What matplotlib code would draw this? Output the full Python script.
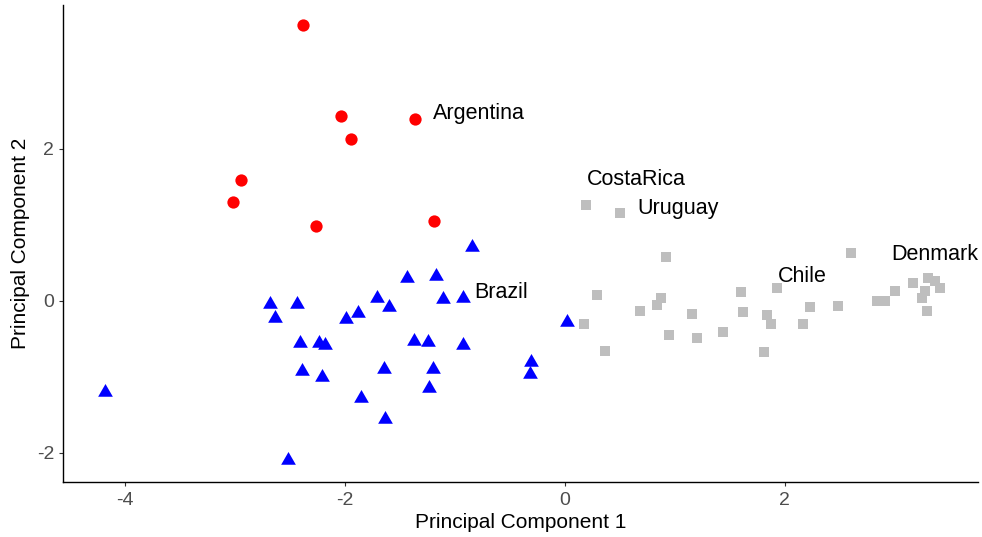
import numpy as np
import matplotlib
matplotlib.use("Agg")
import matplotlib.pyplot as plt

plt.rcParams["font.family"] = ["Liberation Sans", "DejaVu Sans"]
plt.rcParams["axes.unicode_minus"] = False

# ── data (PC scores) ─────────────────────────────────────────────────────────
red_pc1 = [-2.384, -2.032, -1.359, -1.947, -2.941, -3.020, -2.259, -1.189]
red_pc2 = [3.629, 2.428, 2.396, 2.129, 1.589, 1.300, 0.988, 1.050]

blue_pc1 = [-0.841, -1.435, -1.168, -0.925, -1.107, -1.707, -1.602, -2.680,
            -2.435, -2.635, -1.884, -1.989, -2.411, -2.232, -2.184, -1.375,
            -1.244, -0.929, -2.386, -2.211, -1.641, -1.195, -1.238, -1.856,
            -1.632, -2.520, -4.184, 0.025, -0.302, -0.320]
blue_pc2 = [0.704, 0.296, 0.326, 0.041, 0.024, 0.041, -0.078, -0.042,
            -0.042, -0.230, -0.156, -0.235, -0.560, -0.560, -0.577, -0.529,
            -0.542, -0.586, -0.924, -1.007, -0.902, -0.893, -1.151, -1.283,
            -1.560, -2.090, -1.196, -0.275, -0.801, -0.963]

gray_pc1 = [0.198, 0.505, 0.917, 2.605, 0.292, 0.171, 0.368, 0.683, 0.838,
            0.880, 1.153, 0.947, 1.201, 1.435, 1.605, 1.617, 1.808, 1.838,
            1.880, 1.935, 2.165, 2.232, 2.489, 2.844, 2.916, 3.007, 3.165,
            3.302, 3.368, 3.411, 3.277, 3.247, 3.295]
gray_pc2 = [1.261, 1.151, 0.572, 0.625, 0.080, -0.305, -0.656, -0.139, -0.055,
            0.041, -0.169, -0.454, -0.493, -0.411, 0.112, -0.151, -0.674, -0.191,
            -0.309, 0.164, -0.301, -0.078, -0.064, 0.001, -0.007, 0.125, 0.230,
            0.304, 0.261, 0.172, 0.129, 0.041, -0.134]

label_names = ["Argentina", "Brazil", "CostaRica", "Uruguay", "Chile", "Denmark"]
label_x = [-1.195, -0.823, 0.205, 0.659, 1.941, 2.968]
label_y = [2.470, 0.105, 1.590, 1.210, 0.315, 0.605]

# equilateral triangle centred on its centroid (like R pch 17)
TRI = [(-1, -1 / np.sqrt(3)), (1, -1 / np.sqrt(3)), (0, 2 / np.sqrt(3))]

fig = plt.figure(figsize=(9.82, 5.37), dpi=100)
ax = fig.add_axes([0.0642, 0.1015, 0.9318, 0.8892])

ax.scatter(gray_pc1, gray_pc2, marker="s", s=60, color="#BEBEBE",
           linewidths=0, zorder=2)
ax.scatter(blue_pc1, blue_pc2, marker=TRI, s=150, color="#0000FF",
           linewidths=0, zorder=3)
ax.scatter(red_pc1, red_pc2, marker="o", s=78, color="#FF0000",
           linewidths=0, zorder=3)

for name, lx, ly in zip(label_names, label_x, label_y):
    ax.text(lx, ly, name, ha="left", va="center", fontsize=15.5,
            color="black", zorder=4)

ax.set_xlim(-4.562, 3.759)
ax.set_ylim(-2.391, 3.892)
ax.set_xticks([-4, -2, 0, 2])
ax.set_yticks([-2, 0, 2])

for side in ["top", "right"]:
    ax.spines[side].set_visible(False)
for side in ["left", "bottom"]:
    ax.spines[side].set_linewidth(1.0)
    ax.spines[side].set_color("black")

ax.tick_params(length=3, width=0.8, color="#333333", labelcolor="#4D4D4D",
               labelsize=14, pad=3.5)

ax.set_xlabel("Principal Component 1", fontsize=15, va="center")
ax.set_ylabel("Principal Component 2", fontsize=15, va="center")
ax.xaxis.set_label_coords(0.5, -0.083)
ax.yaxis.set_label_coords(-0.047, 0.5)

fig.savefig("out.png", dpi=100)
